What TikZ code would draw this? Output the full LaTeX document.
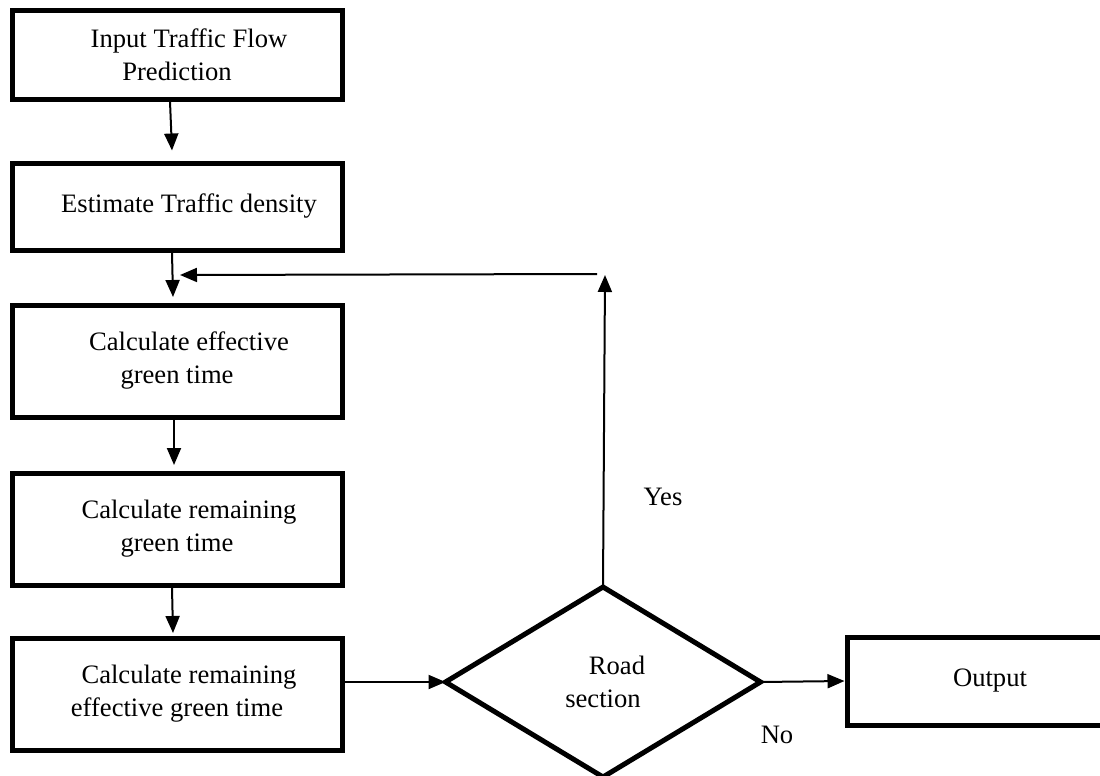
\documentclass[tikz,border=0pt]{standalone}
\usepackage{fontspec}
\setmainfont{Liberation Serif}
\usetikzlibrary{shapes.geometric,arrows.meta}
\begin{document}
\begin{tikzpicture}[x=1pt,y=-1pt,
  txt/.style={font=\fontsize{26.6}{33}\selectfont},
  stepbox/.style={txt,draw,line width=5pt,rectangle,minimum width=330pt,inner sep=0pt,align=center},
  decision/.style={txt,draw,line width=5pt,diamond,minimum width=315pt,minimum height=190pt,inner sep=0pt,outer sep=0pt,align=center},
  arr/.style={line width=2pt,-{Triangle[length=17pt,width=14pt]}},
  lbl/.style={txt,inner sep=0pt}]
\useasboundingbox (0,0) rectangle (1100,776);

\node[stepbox,minimum height=88pt] (b1) at (177,55) {\hspace*{24pt}Input Traffic Flow\\Prediction};
\node[stepbox,minimum height=87pt] (b2) at (177,206.5) {\hspace*{24pt}Estimate Traffic density};
\node[stepbox,minimum height=112pt] (b3) at (177,361) {\hspace*{24pt}Calculate effective\\green time};
\node[stepbox,minimum height=112pt] (b4) at (177,529) {\hspace*{24pt}Calculate remaining\\green time};
\node[stepbox,minimum height=112pt] (b5) at (177,694) {\hspace*{24pt}Calculate remaining\\effective green time};
\node[decision] (d) at (603,682) {\hspace*{28pt}Road\\section};
\node[stepbox,minimum width=286pt,minimum height=88pt] (out) at (990,681) {Output};

\node[lbl] (yes) at (663,497) {Yes};
\node[lbl] (no) at (777,735) {No};

\coordinate (yt) at (605,275);
\coordinate (fb) at (180,275);

\draw[arr] ([xshift=-7pt]b1.south) -- ([xshift=-5pt,yshift=10pt]b2.north);
\draw[arr] ([xshift=-5pt]b2.south) -- ([xshift=-4pt,yshift=5.5pt]b3.north);
\draw[arr] ([xshift=-3pt]b3.south) -- ([xshift=-3pt,yshift=5.5pt]b4.north);
\draw[arr] ([xshift=-5pt]b4.south) -- ([xshift=-4pt,yshift=2.5pt]b5.north);
\draw[arr] ([yshift=12pt]b5.east) -- (d.west);
\draw[arr] (d.east) -- (out.west);
\draw[arr] (d.north) -- (yt);
\draw[arr] ([xshift=-8pt,yshift=1pt]yt) -- (fb);
\end{tikzpicture}
\end{document}
